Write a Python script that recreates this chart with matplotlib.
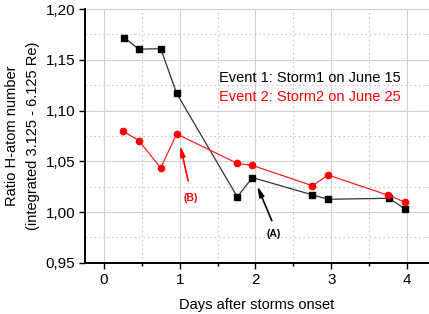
import matplotlib
matplotlib.use("Agg")
import matplotlib.pyplot as plt
from matplotlib.ticker import MultipleLocator

plt.rcParams["font.family"] = ["Liberation Sans", "DejaVu Sans"]

# data
days1 = [0.27, 0.46, 0.75, 0.96, 1.76, 1.96, 2.75, 2.96, 3.76, 3.97]
ratio1 = [1.172, 1.1605, 1.161, 1.117, 1.015, 1.034, 1.017, 1.0126, 1.0136, 1.0035]
days2 = [0.25, 0.46, 0.75, 0.96, 1.76, 1.96, 2.75, 2.96, 3.75, 3.97]
ratio2 = [1.080, 1.0705, 1.0435, 1.077, 1.048, 1.046, 1.026, 1.0365, 1.0166, 1.010]
event1_label = "Event 1: Storm1 on June 15"
event2_label = "Event 2: Storm2 on June 25"

fig = plt.figure(figsize=(4.29, 3.14), dpi=100)
ax = fig.add_axes([0.198, 0.163, 0.802, 0.808])

ax.plot(days1, ratio1, color="#333333", lw=0.9, marker="s", ms=4.2,
        mfc="black", mec="black", zorder=3)
ax.plot(days2, ratio2, color="#ff2020", lw=0.9, marker="o", ms=4.5,
        mfc="red", mec="red", zorder=3)

ax.set_xlim(-0.25, 4.29)
ax.set_ylim(0.95, 1.20)
ax.xaxis.set_major_locator(MultipleLocator(1))
ax.xaxis.set_minor_locator(MultipleLocator(0.5))
ax.yaxis.set_major_locator(MultipleLocator(0.05))
ax.yaxis.set_minor_locator(MultipleLocator(0.025))
ax.yaxis.set_major_formatter(lambda v, pos: f"{v:.2f}".replace(".", ","))

ax.grid(True, which="major", color="#d0d0d0", lw=0.8)
ax.grid(True, which="minor", color="#c8c8c8", lw=0.8, ls=(0, (1.5, 2.5)))
ax.set_axisbelow(True)

for side in ("top", "right"):
    ax.spines[side].set_visible(False)
for side in ("left", "bottom"):
    ax.spines[side].set_linewidth(1.4)

ax.tick_params(which="major", direction="out", length=4, width=1,
               labelsize=11, pad=3)
ax.tick_params(which="minor", direction="out", length=2.5, width=1)
ax.tick_params(axis="y", which="minor", length=0)

ax.set_xlabel("Days after storms onset", fontsize=10.5, labelpad=8)
ax.set_ylabel("Ratio H-atom number\n(integrated 3.125 - 6.125 Re)",
              fontsize=10.5, labelpad=4, linespacing=1.6)

ax.text(1.52, 1.132, event1_label, color="black", fontsize=10.5, va="center")
ax.text(1.52, 1.113, event2_label, color="red", fontsize=10.5, va="center")

ax.annotate("", xy=(1.0, 1.068), xytext=(1.12, 1.028),
            arrowprops=dict(arrowstyle="-|>,head_length=0.6,head_width=0.15",
                            color="red", lw=1.2))
ax.text(1.14, 1.014, "(B)", color="red", fontsize=7.5, fontweight="bold",
        ha="center", va="center")
ax.annotate("", xy=(2.01, 1.028), xytext=(2.23, 0.989),
            arrowprops=dict(arrowstyle="-|>,head_length=0.6,head_width=0.15",
                            color="black", lw=1.2))
ax.text(2.24, 0.978, "(A)", color="black", fontsize=7.5, fontweight="bold",
        ha="center", va="center")

fig.savefig("out.png", dpi=100)
